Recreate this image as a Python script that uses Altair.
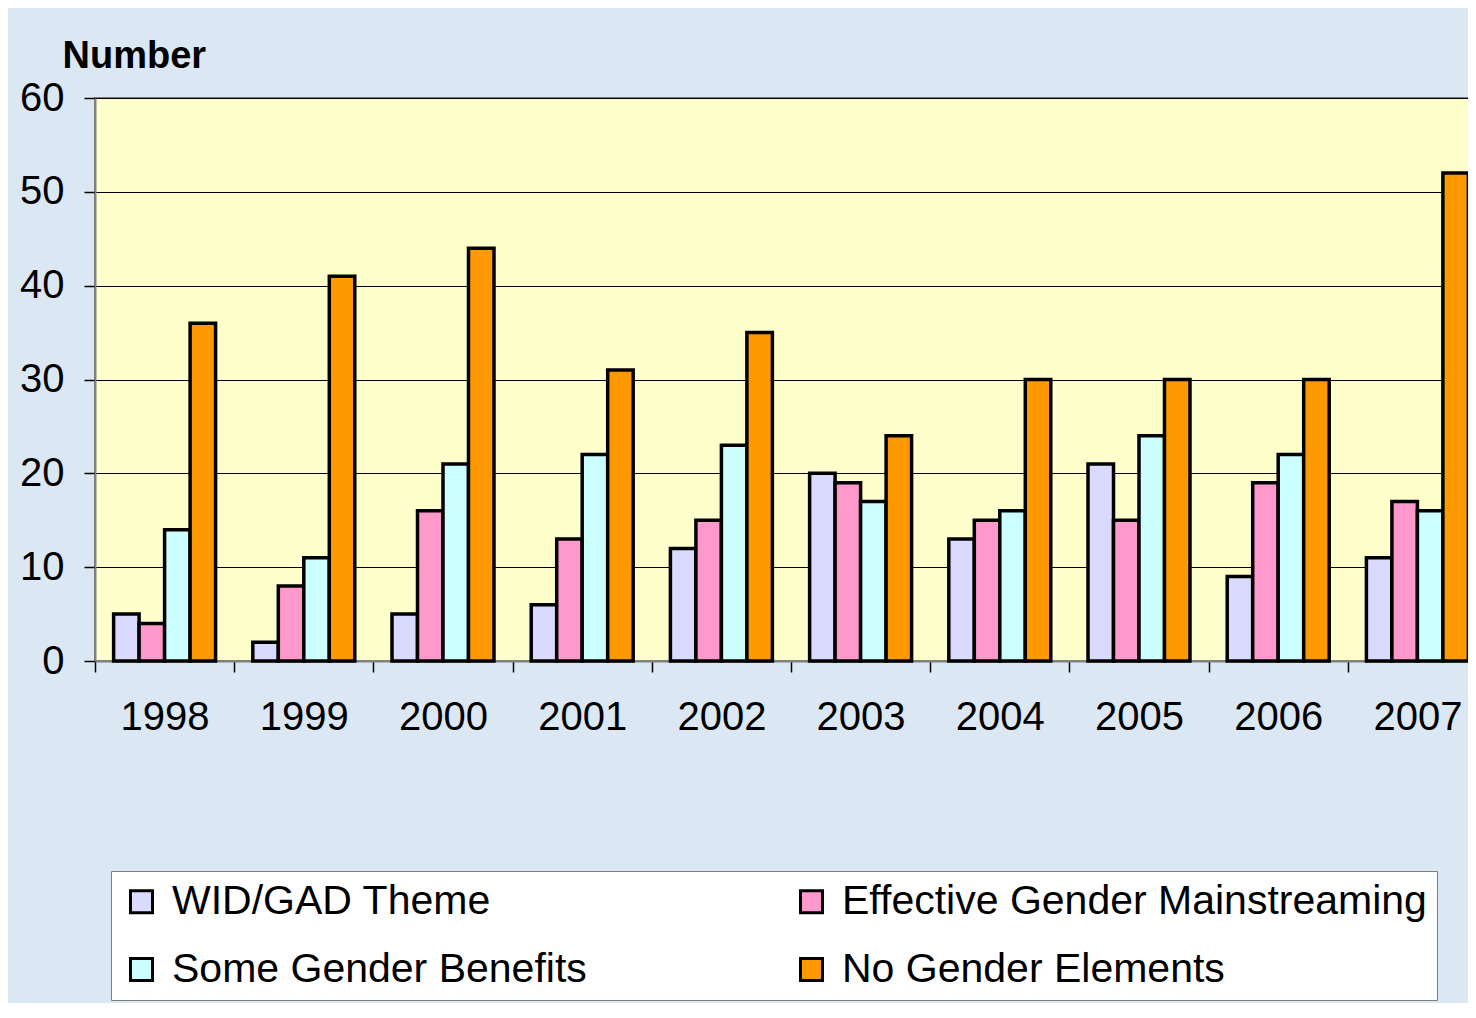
import altair as alt
import pandas as pd

years = ["1998", "1999", "2000", "2001", "2002", "2003", "2004", "2005", "2006", "2007"]
series_names = ["WID/GAD Theme", "Effective Gender Mainstreaming", "Some Gender Benefits", "No Gender Elements"]
wid_gad = [5, 2, 5, 6, 12, 20, 13, 21, 9, 11]
effective = [4, 8, 16, 13, 15, 19, 15, 15, 19, 17]
some_benefits = [14, 11, 21, 22, 23, 17, 16, 24, 22, 16]
no_elements = [36, 41, 44, 31, 35, 24, 30, 30, 30, 52]
colors = ["#dadaff", "#ff99cc", "#ccffff", "#ff9900"]
y_ticks = [0, 10, 20, 30, 40, 50, 60]

rows = []
for name, vals in zip(series_names, [wid_gad, effective, some_benefits, no_elements]):
    for yr, v in zip(years, vals):
        rows.append({"year": yr, "series": name, "value": v})
df = pd.DataFrame(rows)

FONT = "Liberation Sans"

chart = alt.Chart(df).mark_bar(stroke="black", strokeWidth=3.5).encode(
    x=alt.X("year:N", sort=years,
            scale=alt.Scale(paddingInner=0, paddingOuter=0),
            axis=alt.Axis(title=None, labelAngle=0, tickBand="extent",
                          labelFont=FONT, labelFontSize=40, labelColor="black",
                          labelPadding=25, tickSize=11, tickColor="black", tickWidth=1.5,
                          domainColor="#808080", domainWidth=2, grid=False)),
    xOffset=alt.XOffset("series:N", sort=series_names,
                        scale=alt.Scale(paddingOuter=0.73, paddingInner=0)),
    y=alt.Y("value:Q", scale=alt.Scale(domain=[0, 60]),
            axis=alt.Axis(title="Number", titleAngle=0, titleAlign="left",
                          titleBaseline="alphabetic", titleX=-33, titleY=-31,
                          titleFont=FONT, titleFontSize=38, titleFontWeight="bold",
                          titleColor="black",
                          values=y_ticks, labelFont=FONT, labelFontSize=40,
                          labelColor="black", labelPadding=20, tickSize=11,
                          tickColor="black", tickWidth=1.5,
                          domainColor="#808080", domainWidth=2,
                          grid=True, gridColor="black", gridWidth=1)),
    color=alt.Color("series:N", sort=series_names,
                    scale=alt.Scale(domain=series_names, range=colors),
                    legend=alt.Legend(title=None, orient="none", legendX=16, legendY=773,
                                      direction="horizontal",
                                      columns=2, columnPadding=204, rowPadding=26,
                                      symbolType="square", symbolSize=484,
                                      symbolStrokeColor="black", symbolStrokeWidth=3,
                                      symbolOpacity=1,
                                      labelFont=FONT, labelFontSize=41, labelColor="black",
                                      labelOffset=10, labelLimit=800,
                                      fillColor="white", strokeColor="#808080",
                                      padding=10)),
).properties(
    width=1392,
    height=563,
    background="#dce7f4",
    padding={"left": 87, "top": 90, "right": -19, "bottom": 342},
    autosize=alt.AutoSizeParams(type="none"),
).configure_view(
    fill="#ffffcc", stroke="#808080", strokeWidth=2
)

chart.save("out.html", embed_options={"renderer": "svg", "actions": False})
